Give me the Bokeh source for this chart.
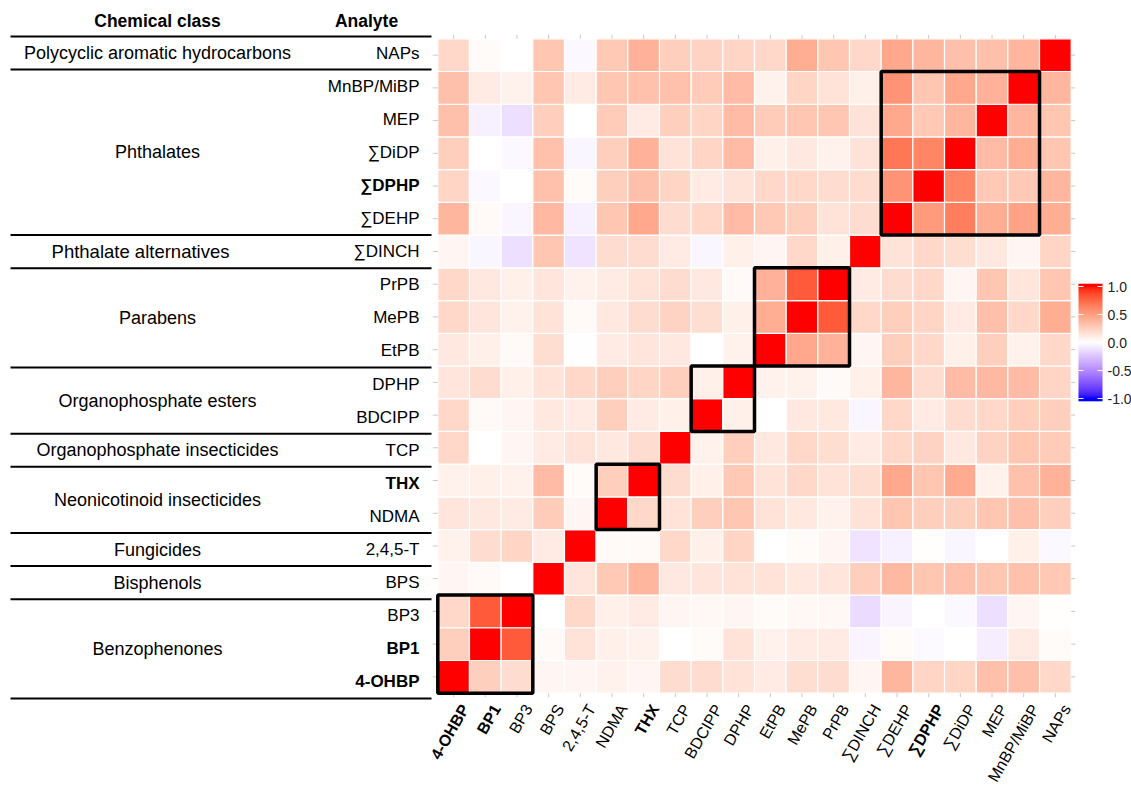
import numpy as np
from bokeh.plotting import figure
from bokeh.models import LinearColorMapper, ColumnDataSource
from bokeh.transform import transform
from bokeh.embed import file_html
from bokeh.resources import INLINE
from bokeh.core.properties import value

# ---------------- data ----------------
# analytes, bottom (index 0) to top (index 19); same order left->right on x
analytes = ["4-OHBP", "BP1", "BP3", "BPS", "2,4,5-T", "NDMA", "THX", "TCP",
            "BDCIPP", "DPHP", "EtPB", "MePB", "PrPB", "\u2211DINCH", "\u2211DEHP",
            "\u2211DPHP", "\u2211DiDP", "MEP", "MnBP/MiBP", "NAPs"]
bold_analytes = ["4-OHBP", "BP1", "THX", "\u2211DPHP"]

class_names = ["Benzophenones", "Bisphenols", "Fungicides", "Neonicotinoid insecticides",
               "Organophosphate insecticides", "Organophosphate esters", "Parabens",
               "Phthalate alternatives", "Phthalates", "Polycyclic aromatic hydrocarbons"]
class_first = [0, 3, 4, 5, 7, 8, 10, 13, 14, 19]
class_last = [2, 3, 4, 6, 7, 9, 12, 13, 18, 19]

# correlation rows (columns in analyte order)
row_NAPs   = [0.20, 0.02, 0.00, 0.30, -0.03, 0.28, 0.40, 0.25, 0.23, 0.22, 0.20, 0.42, 0.30, 0.20, 0.45, 0.38, 0.33, 0.33, 0.38, 1.00]
row_MnBP   = [0.33, 0.10, 0.07, 0.30, 0.10, 0.30, 0.32, 0.32, 0.27, 0.35, 0.07, 0.22, 0.15, 0.08, 0.55, 0.30, 0.45, 0.40, 1.00, 0.38]
row_MEP    = [0.33, -0.06, -0.13, 0.25, 0.00, 0.27, 0.10, 0.25, 0.22, 0.35, 0.27, 0.30, 0.30, 0.15, 0.45, 0.28, 0.38, 1.00, 0.38, 0.30]
row_DiDP   = [0.25, 0.00, -0.03, 0.32, -0.04, 0.25, 0.40, 0.15, 0.22, 0.35, 0.08, 0.12, 0.07, 0.15, 0.68, 0.62, 1.00, 0.35, 0.42, 0.30]
row_sDPHP  = [0.22, -0.03, 0.00, 0.32, 0.02, 0.25, 0.33, 0.22, 0.10, 0.15, 0.20, 0.20, 0.18, 0.18, 0.55, 1.00, 0.62, 0.28, 0.28, 0.38]
row_DEHP   = [0.38, 0.03, -0.04, 0.37, -0.06, 0.30, 0.45, 0.18, 0.20, 0.35, 0.28, 0.25, 0.15, 0.18, 1.00, 0.52, 0.65, 0.42, 0.48, 0.42]
row_DINCH  = [0.05, -0.04, -0.13, 0.30, -0.12, 0.18, 0.18, 0.10, -0.04, 0.08, 0.05, 0.20, 0.08, 1.00, 0.15, 0.20, 0.17, 0.12, 0.05, 0.22]
row_PrPB   = [0.20, 0.12, 0.08, 0.13, 0.07, 0.10, 0.15, 0.18, 0.12, 0.03, 0.40, 0.80, 1.00, 0.10, 0.18, 0.20, 0.05, 0.30, 0.13, 0.30]
row_MePB   = [0.20, 0.13, 0.07, 0.15, 0.03, 0.12, 0.18, 0.23, 0.17, 0.08, 0.42, 1.00, 0.80, 0.20, 0.25, 0.22, 0.10, 0.33, 0.20, 0.42]
row_EtPB   = [0.12, 0.08, 0.03, 0.17, -0.01, 0.10, 0.13, 0.12, 0.00, 0.07, 1.00, 0.45, 0.40, 0.05, 0.25, 0.20, 0.08, 0.25, 0.07, 0.20]
row_DPHP   = [0.13, 0.18, 0.08, 0.15, 0.20, 0.25, 0.22, 0.25, 0.08, 1.00, 0.07, 0.07, 0.03, 0.08, 0.38, 0.18, 0.35, 0.37, 0.35, 0.22]
row_BDCIPP = [0.20, 0.03, 0.05, 0.12, 0.10, 0.25, 0.10, 0.08, 1.00, 0.08, 0.00, 0.12, 0.12, -0.04, 0.20, 0.10, 0.18, 0.20, 0.25, 0.25]
row_TCP    = [0.20, 0.00, 0.05, 0.10, 0.15, 0.12, 0.18, 1.00, 0.07, 0.25, 0.12, 0.20, 0.17, 0.10, 0.20, 0.23, 0.12, 0.23, 0.30, 0.27]
row_THX    = [0.07, 0.08, 0.07, 0.35, 0.02, 0.25, 1.00, 0.18, 0.08, 0.28, 0.15, 0.20, 0.15, 0.17, 0.45, 0.30, 0.43, 0.07, 0.32, 0.40]
row_NDMA   = [0.13, 0.12, 0.10, 0.27, 0.05, 1.00, 0.20, 0.15, 0.25, 0.30, 0.15, 0.12, 0.07, 0.15, 0.30, 0.25, 0.25, 0.30, 0.33, 0.25]
row_245T   = [0.07, 0.18, 0.22, 0.10, 1.00, 0.03, 0.03, 0.20, 0.08, 0.22, 0.00, 0.02, 0.05, -0.12, -0.06, 0.01, -0.04, 0.00, 0.08, -0.03]
row_BPS    = [0.05, 0.03, 0.00, 1.00, 0.13, 0.28, 0.38, 0.12, 0.13, 0.15, 0.15, 0.12, 0.13, 0.25, 0.37, 0.30, 0.32, 0.30, 0.32, 0.28]
row_BP3    = [0.20, 0.80, 1.00, 0.00, 0.20, 0.08, 0.10, 0.05, 0.04, 0.05, 0.02, 0.04, 0.04, -0.15, -0.05, 0.00, -0.03, -0.13, 0.05, 0.01]
row_BP1    = [0.25, 1.00, 0.80, 0.03, 0.15, 0.08, 0.07, 0.00, 0.02, 0.15, 0.07, 0.10, 0.10, -0.05, 0.02, -0.02, 0.00, -0.07, 0.10, 0.02]
row_4OHBP  = [1.00, 0.25, 0.18, 0.05, 0.05, 0.07, 0.05, 0.18, 0.18, 0.15, 0.10, 0.17, 0.18, 0.05, 0.38, 0.22, 0.22, 0.33, 0.33, 0.20]

legend_ticks = [1.0, 0.5, 0.0, -0.5, -1.0]

# rows in analyte order (bottom -> top)
rows = [row_4OHBP, row_BP1, row_BP3, row_BPS, row_245T, row_NDMA, row_THX, row_TCP,
        row_BDCIPP, row_DPHP, row_EtPB, row_MePB, row_PrPB, row_DINCH, row_DEHP,
        row_sDPHP, row_DiDP, row_MEP, row_MnBP, row_NAPs]

# ---------------- colour scale (Lab interpolation blue-white-red) ----------------
def _lin(c):
    c = np.asarray(c, float) / 255.0
    return np.where(c <= 0.04045, c / 12.92, ((c + 0.055) / 1.055) ** 2.4)

WHITE_REF = np.array([0.95047, 1.0, 1.08883])
M = np.array([[0.4124564, 0.3575761, 0.1804375],
              [0.2126729, 0.7151522, 0.0721750],
              [0.0193339, 0.1191920, 0.9503041]])

def rgb2lab(rgb):
    xyz = M @ _lin(rgb) / WHITE_REF
    d = 6 / 29
    f = np.where(xyz > d ** 3, np.cbrt(xyz), xyz / (3 * d * d) + 4 / 29)
    return np.array([116 * f[1] - 16, 500 * (f[0] - f[1]), 200 * (f[1] - f[2])])

def lab2hex(lab):
    L, a, b = lab
    fy = (L + 16) / 116
    fx = fy + a / 500
    fz = fy - b / 200
    d = 6 / 29
    def finv(t):
        return t ** 3 if t > d else 3 * d * d * (t - 4 / 29)
    xyz = np.array([finv(fx), finv(fy), finv(fz)]) * WHITE_REF
    lin = np.linalg.solve(M, xyz)
    lin = np.clip(lin, 0, 1)
    srgb = np.where(lin <= 0.0031308, 12.92 * lin, 1.055 * lin ** (1 / 2.4) - 0.055)
    r, g, bb = (np.clip(np.round(srgb * 255), 0, 255)).astype(int)
    return "#%02x%02x%02x" % (r, g, bb)

lab_low, lab_mid, lab_high = rgb2lab((0, 0, 255)), rgb2lab((255, 255, 255)), rgb2lab((255, 0, 0))
palette = []
for t in np.linspace(-1, 1, 255):
    if t < 0:
        lab = lab_mid + (-t) * (lab_low - lab_mid)
    else:
        lab = lab_mid + t * (lab_high - lab_mid)
    palette.append(lab2hex(lab))
mapper = LinearColorMapper(palette=palette, low=-1, high=1,
                           low_color=palette[0], high_color=palette[-1])

# ---------------- layout (screen pixels -> data units) ----------------
W, H = 1131, 788
MARGIN = 0
CELL_W, CELL_H = 31.67, 32.72
HM_LEFT, HM_BOTTOM = 437.3, 692.7
x0 = -0.5 - (HM_LEFT - MARGIN) / CELL_W
x1 = x0 + W / CELL_W
y_top = -0.5 + (HM_BOTTOM - MARGIN) / CELL_H
y_bot = y_top - H / CELL_H

def sx(px):
    return x0 + (px - MARGIN) / CELL_W

def sy(py):
    return y_top - (py - MARGIN) / CELL_H

TBL_TOP, TBL_PITCH = 36.0, 33.1  # table rows (screen px)

def table_y(k):  # k rows from top of table
    return sy(TBL_TOP + TBL_PITCH * k)

FONT = value("Liberation Sans")

p = figure(width=W, height=H, x_range=(x0, x1), y_range=(y_bot, y_top),
           output_backend="svg", toolbar_location=None, min_border=0,
           x_axis_location=None, y_axis_location=None, outline_line_color=None,
           background_fill_color="white", border_fill_color="white")
p.grid.visible = False

n = len(analytes)
xs, ys, vs = [], [], []
for j, r in enumerate(rows):
    for i, v in enumerate(r):
        xs.append(i)
        ys.append(j)
        vs.append(v)
src = ColumnDataSource(dict(x=xs, y=ys, v=vs))
p.rect(x="x", y="y", width=1, height=1, source=src,
       fill_color=transform("v", mapper), line_color="white", line_width=1.2)

# axis ticks (all four sides)
tick_col = "#c8c8c8"
idx = list(range(n))
p.segment(x0=[sx(HM_LEFT - 5)] * n, x1=[-0.5] * n, y0=idx, y1=idx, line_color=tick_col, line_width=1)
p.segment(x0=[19.5] * n, x1=[19.5 + 4 / CELL_W] * n, y0=idx, y1=idx, line_color=tick_col, line_width=1)
p.segment(x0=idx, x1=idx, y0=[-0.5] * n, y1=[-0.5 - 4 / CELL_H] * n, line_color=tick_col, line_width=1)
p.segment(x0=idx, x1=idx, y0=[19.5] * n, y1=[19.5 + 4 / CELL_H] * n, line_color=tick_col, line_width=1)

# group boxes on the diagonal
for a, b in zip(class_first, class_last):
    if b > a:
        c = (a + b) / 2
        w = b - a + 1
        p.rect(x=c, y=c, width=w, height=w, fill_color=None,
               line_color="black", line_width=3.5)

# ---------------- left table ----------------
bounds = sorted(set([0] + [n - a for a in class_first] + [n]))
for k in bounds:
    yk = table_y(k)
    p.segment(x0=sx(10), x1=sx(431), y0=yk, y1=yk, line_color="black", line_width=2)

p.text(x=[sx(157)], y=[sy(20)], text=["Chemical class"], text_font=FONT,
       text_font_size="17.5px", text_font_style="bold", text_align="center",
       text_baseline="middle", text_color="black")
p.text(x=[sx(366)], y=[sy(20)], text=["Analyte"], text_font=FONT,
       text_font_size="17.5px", text_font_style="bold", text_align="center",
       text_baseline="middle", text_color="black")

for j, name in enumerate(analytes):
    k = n - 1 - j
    p.text(x=[sx(419)], y=[table_y(k + 0.5)], text=[name], text_font=FONT,
           text_font_size="17px",
           text_font_style="bold" if name in bold_analytes else "normal",
           text_align="right", text_baseline="middle", text_color="black")

for name, a, b in zip(class_names, class_first, class_last):
    kc = n - 1 - (a + b) / 2
    wide = name == "Phthalate alternatives"
    p.text(x=[sx(140 if wide else 157)], y=[table_y(kc + 0.5)], text=[name], text_font=FONT,
           text_font_size="18.5px" if wide else "18px", text_align="center",
           text_baseline="middle", text_color="black")

# ---------------- x-axis labels ----------------
for i, name in enumerate(analytes):
    p.text(x=[i + 4 / CELL_W], y=[sy(701)], text=[name], text_font=FONT,
           text_font_size="16px",
           text_font_style="bold" if name in bold_analytes else "normal",
           angle=np.pi / 3, text_align="right", text_baseline="top", text_color="black")

# ---------------- colour bar ----------------
def leg_y(v):
    return sy(342 - 56 * v)

cb_vals = np.linspace(-1.05, 1.05, 240).reshape(-1, 1)
cb_x0, cb_x1 = sx(1078), sx(1102)
p.image(image=[cb_vals], x=cb_x0, y=leg_y(-1.05), dw=cb_x1 - cb_x0,
        dh=leg_y(1.05) - leg_y(-1.05), color_mapper=mapper)
tk = [t for t in legend_ticks]
tl = 5 / CELL_W
p.segment(x0=[cb_x0] * len(tk), x1=[cb_x0 + tl] * len(tk), y0=[leg_y(t) for t in tk],
          y1=[leg_y(t) for t in tk], line_color="white", line_width=1)
p.segment(x0=[cb_x1 - tl] * len(tk), x1=[cb_x1] * len(tk), y0=[leg_y(t) for t in tk],
          y1=[leg_y(t) for t in tk], line_color="white", line_width=1)
p.text(x=[sx(1107)] * len(tk), y=[leg_y(t) for t in tk], text=["%.1f" % t for t in tk],
       text_font=FONT, text_font_size="14px", text_align="left", text_baseline="middle",
       text_color="#222222")

open("out.html", "w").write(file_html(p, INLINE))
